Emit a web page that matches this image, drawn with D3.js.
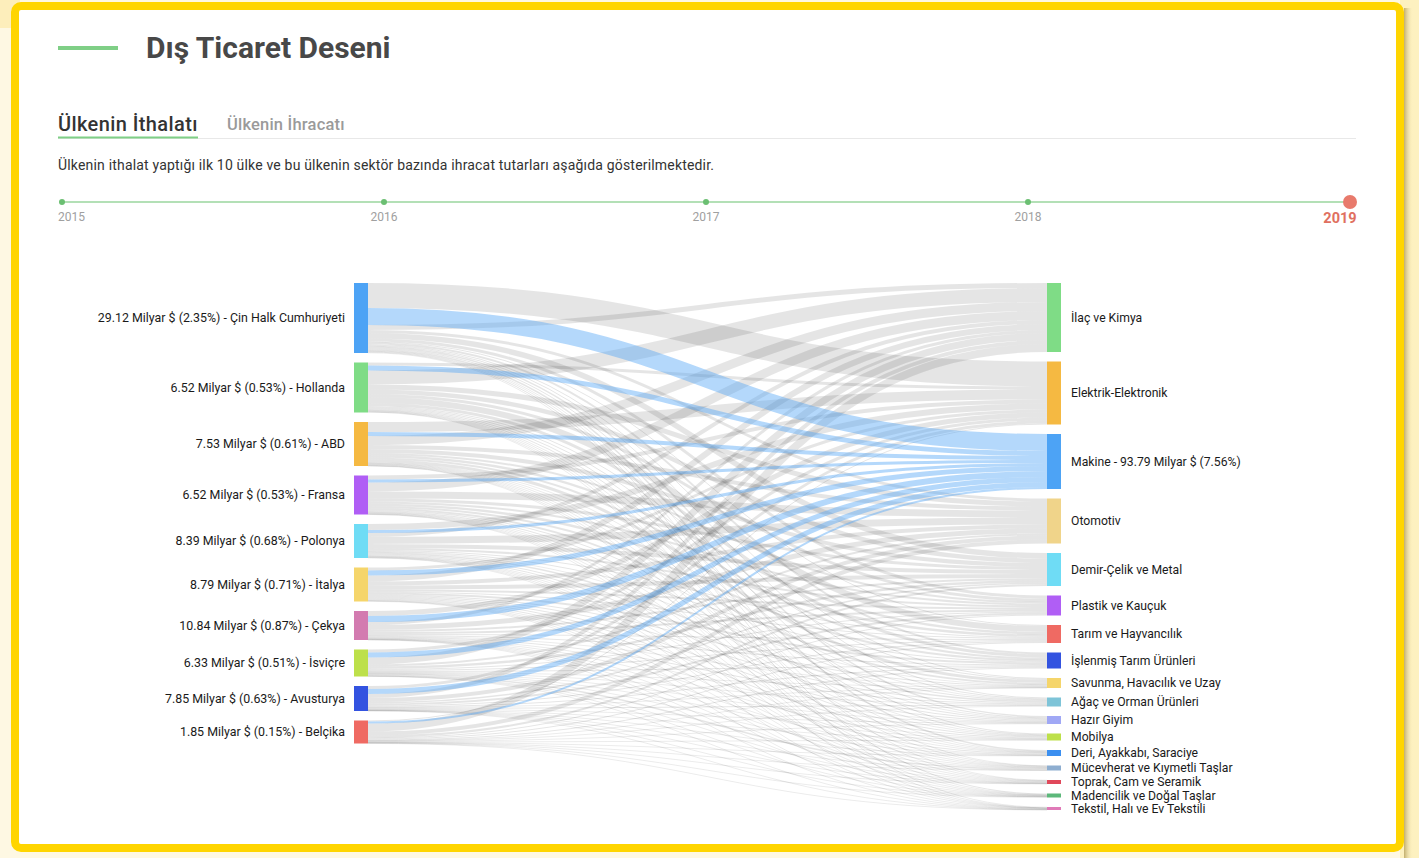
<!DOCTYPE html>
<html lang="tr">
<head>
<meta charset="utf-8">
<title>Dış Ticaret Deseni</title>
<script src="https://cdn.jsdelivr.net/npm/d3@7"></script>
<style>
  body { margin: 0; background: #fef8e3; }
  svg { display: block; font-family: Roboto, "Noto Sans", sans-serif; }
</style>
</head>
<body>
<svg width="1419" height="858"></svg>
<script>
// ---- data ----
const years = [2015, 2016, 2017, 2018, 2019];
const activeYear = 2019;

const countries = ["Çin Halk Cumhuriyeti", "Hollanda", "ABD", "Fransa", "Polonya",
    "İtalya", "Çekya", "İsviçre", "Avusturya", "Belçika"];
const countryAmounts = [29.12, 6.52, 7.53, 6.52, 8.39, 8.79, 10.84, 6.33, 7.85, 1.85];
const countryShares = [2.35, 0.53, 0.61, 0.53, 0.68, 0.71, 0.87, 0.51, 0.63, 0.15];
const countryColors = ["#4da3f5", "#7fdc86", "#f5b942", "#b05ef5", "#6fdcf5",
    "#f5d56b", "#d37bb0", "#bde04a", "#3353e0", "#ef6a63"];

// sectors in data order (links leave each country in this order)
const sectors = ["Elektrik-Elektronik", "Makine", "İlaç ve Kimya", "Otomotiv",
    "Demir-Çelik ve Metal", "Plastik ve Kauçuk", "Tarım ve Hayvancılık",
    "İşlenmiş Tarım Ürünleri", "Savunma, Havacılık ve Uzay", "Ağaç ve Orman Ürünleri",
    "Hazır Giyim", "Mobilya", "Deri, Ayakkabı, Saraciye", "Mücevherat ve Kıymetli Taşlar",
    "Toprak, Cam ve Seramik", "Madencilik ve Doğal Taşlar", "Tekstil, Halı ve Ev Tekstili"];
const sectorColors = ["#f5b942", "#4da3f5", "#7fdc86", "#f0d48a", "#6fdcf5", "#b05ef5",
    "#ef6a63", "#3353e0", "#f5d56b", "#7ec4d8", "#a0a8f5", "#bde04a", "#3b8ff0",
    "#8eaed0", "#e0485a", "#5cb87a", "#e07ab8"];

const highlightSector = "Makine";
const highlightAmount = 93.79;
const highlightShare = 7.56;

// rows = countries, columns = sectors (estimated from band widths)
const flows = [
    [25, 17, 5, 3, 5.5, 3, 1, 2, 1, 1, 1.5, 1, 1.5, 0.5, 0.5, 1, 0.5],
    [3, 5, 14, 5, 4.5, 3, 6, 3, 1, 1, 1, 1, 0.5, 0.5, 0.5, 0.5, 0.5],
    [10, 4, 9, 4, 4, 2, 2.5, 2, 3, 0.5, 0.5, 0.5, 0.5, 0.5, 0.5, 0.3, 0.2],
    [4, 3, 9, 7, 3, 2, 2.5, 2, 2, 1, 1, 0.5, 0.5, 0.5, 0.5, 0.3, 0.2],
    [6, 3, 4, 7, 4, 2, 1, 1, 0.5, 1.5, 1, 1, 0.5, 0.3, 0.5, 0.4, 0.3],
    [3, 5, 6, 4, 4, 2, 1, 2, 1, 1, 1, 1, 1, 0.7, 0.5, 0.3, 0.5],
    [5, 6, 3, 5, 2, 2, 1, 1, 0.5, 1, 0.5, 0.5, 0.5, 0.2, 0.3, 0.3, 0.2],
    [3, 5, 7, 2, 2.5, 1, 1, 1, 0.5, 0.5, 0.5, 0.5, 0.3, 1.5, 0.2, 0.2, 0.3],
    [3, 5, 4, 4, 1.5, 2, 1, 1, 0.3, 1, 0.5, 0.5, 0.4, 0.1, 0.3, 0.2, 0.2],
    [1, 2, 8, 4, 2, 1, 1, 1, 0.2, 0.5, 0.5, 0.5, 0.3, 0.2, 0.2, 0.5, 0.1]
];

// ---- page ----
const svg = d3.select("svg");
const width = +svg.attr("width");
const height = +svg.attr("height");

svg.append("rect").attr("width", width).attr("height", height).attr("fill", "#fef8e3");
svg.append("rect").attr("width", 20).attr("height", 28).attr("fill", "#fdeebb");
svg.append("rect").attr("x", 1400).attr("width", 19).attr("height", height).attr("fill", "#fdf1c0");

const defs = svg.append("defs");
const shadow = defs.append("linearGradient").attr("id", "shadow");
shadow.append("stop").attr("offset", 0).attr("stop-color", "#a8924a").attr("stop-opacity", 0.7);
shadow.append("stop").attr("offset", 1).attr("stop-color", "#fdf1c0").attr("stop-opacity", 0);
svg.append("rect").attr("x", 1404).attr("y", 8).attr("width", 9).attr("height", 850)
    .attr("fill", "url(#shadow)");

// card
svg.append("rect")
    .attr("x", 15).attr("y", 6).attr("width", 1385).attr("height", 842).attr("rx", 6)
    .attr("fill", "#fff").attr("stroke", "#ffd500").attr("stroke-width", 8);

// title
svg.append("line").attr("x1", 58).attr("x2", 118).attr("y1", 48).attr("y2", 48)
    .attr("stroke", "#7fcf86").attr("stroke-width", 4);
svg.append("text").attr("x", 146).attr("y", 58)
    .attr("font-size", 30).attr("font-weight", 700).attr("fill", "#484848")
    .text("Dış Ticaret Deseni");

// tabs
svg.append("line").attr("x1", 58).attr("x2", 1356).attr("y1", 138.5).attr("y2", 138.5)
    .attr("stroke", "#e8e8e8");
svg.append("line").attr("x1", 58).attr("x2", 198).attr("y1", 137.5).attr("y2", 137.5)
    .attr("stroke", "#7fcf86").attr("stroke-width", 2);
svg.append("text").attr("x", 58).attr("y", 131)
    .attr("font-size", 20).attr("font-weight", 500).attr("fill", "#333")
    .attr("letter-spacing", 0.4)
    .text("Ülkenin İthalatı");
svg.append("text").attr("x", 227).attr("y", 130)
    .attr("font-size", 16.5).attr("font-weight", 500).attr("fill", "#9a9a9a")
    .attr("letter-spacing", 0.2)
    .text("Ülkenin İhracatı");

svg.append("text").attr("x", 58).attr("y", 170)
    .attr("font-size", 14).attr("fill", "#333").attr("letter-spacing", 0.18)
    .text("Ülkenin ithalat yaptığı ilk 10 ülke ve bu ülkenin sektör bazında ihracat tutarları aşağıda gösterilmektedir.");

// timeline
const xYear = d3.scalePoint().domain(years).range([62, 1350]);
const tl = svg.append("g");
tl.append("line").attr("x1", xYear.range()[0]).attr("x2", xYear.range()[1])
    .attr("y1", 202).attr("y2", 202).attr("stroke", "#9ad69e").attr("stroke-width", 1.5);
tl.selectAll("circle").data(years).join("circle")
    .attr("cx", d => xYear(d)).attr("cy", 202)
    .attr("r", d => d === activeYear ? 7 : 3)
    .attr("fill", d => d === activeYear ? "#e87a6c" : "#6bbf72");
tl.selectAll("text").data(years).join("text")
    .attr("x", (d, i) => i === 0 ? xYear(d) - 4 : d === activeYear ? xYear(d) - 10 : xYear(d))
    .attr("y", d => d === activeYear ? 223 : 221)
    .attr("text-anchor", (d, i) => i === 0 ? "start" : "middle")
    .attr("font-size", d => d === activeYear ? 14.5 : 12)
    .attr("font-weight", d => d === activeYear ? 700 : 400)
    .attr("fill", d => d === activeYear ? "#e07060" : "#a0a0a0")
    .text(d => d);

// ---- sankey (two columns) ----
const yTop = 283, yBottom = 810, nodeWidth = 14, nodePadding = 9.5;
const colX = d3.scaleOrdinal().domain(["country", "sector"]).range([354, 1047]);

const links = [];
flows.forEach((row, i) => row.forEach((v, j) => {
    if (v > 0) links.push({ source: i, target: j, value: v });
}));

const leftNodes = countries.map((name, i) => ({
    name, i, color: countryColors[i], value: d3.sum(flows[i])
}));
const rightNodes = d3.sort(sectors.map((name, j) => ({
    name, j, color: sectorColors[j], value: d3.sum(flows, r => r[j])
})), (a, b) => Math.round(b.value * 10) - Math.round(a.value * 10));

const total = d3.sum(leftNodes, d => d.value);
const maxN = Math.max(leftNodes.length, rightNodes.length);
const yVal = d3.scaleLinear().domain([0, total])
    .range([0, yBottom - yTop - (maxN - 1) * nodePadding]);

function stack(nodes) {
    let y = yTop;
    nodes.forEach(n => { n.y0 = y; n.y1 = y + yVal(n.value); y = n.y1 + nodePadding; });
}
stack(leftNodes);
stack(rightNodes);

// source offsets: data order of sectors; target offsets: country order
const srcOff = leftNodes.map(n => n.y0);
const tgtOff = new Map(rightNodes.map(n => [n.j, n.y0]));
links.forEach(l => {
    l.width = yVal(l.value);
    l.ys = srcOff[l.source] + l.width / 2;
    srcOff[l.source] += l.width;
});
d3.sort(links, l => l.source).forEach(l => {
    l.yt = tgtOff.get(l.target) + l.width / 2;
    tgtOff.set(l.target, tgtOff.get(l.target) + l.width);
});

const linkPath = d3.linkHorizontal();
const hi = sectors.indexOf(highlightSector);
const linkG = svg.append("g").attr("fill", "none");

linkG.selectAll("path.base").data(links.filter(l => l.target !== hi)).join("path")
    .attr("class", "base")
    .attr("d", l => linkPath({ source: [colX("country") + nodeWidth, l.ys], target: [colX("sector"), l.yt] }))
    .attr("stroke", "#000").attr("stroke-opacity", 0.1)
    .attr("stroke-width", l => Math.max(0.8, l.width));

linkG.selectAll("path.hi").data(links.filter(l => l.target === hi)).join("path")
    .attr("class", "hi")
    .attr("d", l => linkPath({ source: [colX("country") + nodeWidth, l.ys], target: [colX("sector"), l.yt] }))
    .attr("stroke", sectorColors[hi]).attr("stroke-opacity", 0.42)
    .attr("stroke-width", l => Math.max(0.8, l.width));

// nodes
svg.append("g").selectAll("rect").data(leftNodes).join("rect")
    .attr("x", colX("country")).attr("y", d => d.y0)
    .attr("width", nodeWidth).attr("height", d => d.y1 - d.y0)
    .attr("fill", d => d.color);
svg.append("g").selectAll("rect").data(rightNodes).join("rect")
    .attr("x", colX("sector")).attr("y", d => d.y0)
    .attr("width", nodeWidth).attr("height", d => d.y1 - d.y0)
    .attr("fill", d => d.color);

// labels
svg.append("g").attr("font-size", 12.4).attr("fill", "#1a1a1a")
    .selectAll("text").data(leftNodes).join("text")
    .attr("x", colX("country") - 9).attr("y", d => (d.y0 + d.y1) / 2)
    .attr("dy", "0.35em").attr("text-anchor", "end")
    .text(d => `${countryAmounts[d.i].toFixed(2)} Milyar $ (${countryShares[d.i].toFixed(2)}%) - ${d.name}`);
svg.append("g").attr("font-size", 12.2).attr("fill", "#1a1a1a")
    .selectAll("text").data(rightNodes).join("text")
    .attr("x", colX("sector") + nodeWidth + 10).attr("y", d => (d.y0 + d.y1) / 2)
    .attr("dy", "0.35em")
    .text(d => d.name === highlightSector
        ? `${d.name} - ${highlightAmount.toFixed(2)} Milyar $ (${highlightShare.toFixed(2)}%)`
        : d.name);
</script>
</body>
</html>
